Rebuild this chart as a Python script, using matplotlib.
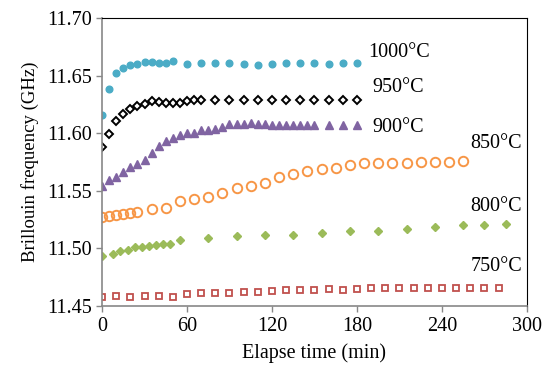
import numpy as np
import matplotlib
matplotlib.use("Agg")
import matplotlib.pyplot as plt

plt.rcParams['font.family'] = ['Liberation Serif', 'DejaVu Serif']

# 1000 C
t1000 = [0, 5, 10, 15, 20, 25, 30, 35, 40, 45, 50, 60, 70, 80, 90, 100, 110, 120,
         130, 140, 150, 160, 170, 180]
f1000 = [11.616, 11.638, 11.652, 11.657, 11.659, 11.660, 11.662, 11.662, 11.661, 11.661,
         11.663, 11.660, 11.661, 11.661, 11.661, 11.660, 11.659, 11.660, 11.661, 11.661,
         11.661, 11.660, 11.661, 11.661]

# 950 C
t950 = [0, 5, 10, 15, 20, 25, 30, 35, 40, 45, 50, 55, 60, 65, 70, 80, 90, 100, 110, 120,
        130, 140, 150, 160, 170, 180]
f950 = [11.588, 11.599, 11.611, 11.617, 11.621, 11.624, 11.625, 11.628, 11.627, 11.626,
        11.626, 11.626, 11.628, 11.629, 11.629, 11.629, 11.629, 11.629, 11.629, 11.629,
        11.629, 11.629, 11.629, 11.629, 11.629, 11.629]

# 900 C
t900 = [0, 5, 10, 15, 20, 25, 30, 35, 40, 45, 50, 55, 60, 65, 70, 75, 80, 85, 90, 95,
        100, 105, 110, 115, 120, 125, 130, 135, 140, 145, 150, 160, 170, 180]
f900 = [11.554, 11.559, 11.562, 11.566, 11.571, 11.573, 11.577, 11.583, 11.589, 11.593,
        11.596, 11.598, 11.600, 11.600, 11.603, 11.603, 11.604, 11.605, 11.608, 11.608,
        11.608, 11.609, 11.608, 11.608, 11.607, 11.607, 11.607, 11.607, 11.607, 11.607,
        11.607, 11.607, 11.607, 11.607]

# 850 C
t850 = [0, 5, 10, 15, 20, 25, 35, 45, 55, 65, 75, 85, 95, 105, 115, 125, 135, 145, 155,
        165, 175, 185, 195, 205, 215, 225, 235, 245, 255]
f850 = [11.527, 11.528, 11.529, 11.530, 11.531, 11.532, 11.534, 11.535, 11.541, 11.543,
        11.545, 11.548, 11.552, 11.554, 11.557, 11.562, 11.565, 11.567, 11.569, 11.570,
        11.572, 11.574, 11.574, 11.574, 11.574, 11.575, 11.575, 11.575, 11.576]

# 800 C
t800 = [0, 8, 13, 18, 23, 28, 33, 38, 43, 48, 55, 75, 95, 115, 135, 155, 175, 195, 215,
        235, 255, 270, 285]
f800 = [11.493, 11.495, 11.498, 11.499, 11.501, 11.501, 11.502, 11.503, 11.504, 11.504,
        11.507, 11.509, 11.511, 11.512, 11.512, 11.513, 11.515, 11.515, 11.517, 11.519,
        11.520, 11.520, 11.521]

# 750 C
t750 = list(range(0, 290, 10))
f750 = [11.458, 11.459, 11.458, 11.459, 11.459, 11.458, 11.460, 11.461, 11.461, 11.461,
        11.462, 11.462, 11.463, 11.464, 11.464, 11.464, 11.465, 11.464, 11.465, 11.466,
        11.466, 11.466, 11.466, 11.466, 11.466, 11.466, 11.466, 11.466, 11.466]

labels = ["1000°C", "950°C", "900°C", "850°C", "800°C", "750°C"]
label_x = [188, 191, 191, 260, 260, 260]
label_y = [11.670, 11.640, 11.605, 11.591, 11.536, 11.484]

fig = plt.figure(figsize=(5.5, 3.79), dpi=100)
ax = fig.add_axes([0.1855, 0.1926, 0.7725, 0.76])

ax.plot(t1000, f1000, 'o', ls='none', color='#4bacc6', ms=4.8, mec='#4bacc6')
ax.plot(t950, f950, 'D', ls='none', mfc='none', mec='black', ms=4.4, mew=1.4)
ax.plot(t900, f900, '^', ls='none', color='#8064a2', ms=5.3)
ax.plot(t850, f850, 'o', ls='none', mfc='none', mec='#f79646', ms=6.8, mew=1.4)
ax.plot(t800, f800, 'D', ls='none', color='#9bbb59', ms=4)
ax.plot(t750, f750, 's', ls='none', mfc='none', mec='#c0504d', ms=4.4, mew=1.3)

for lab, lx, ly in zip(labels, label_x, label_y):
    ax.text(lx, ly, lab, fontsize=14.5, ha='left', va='center')

ax.set_xlim(0, 300)
ax.set_ylim(11.45, 11.70)
ax.set_xticks([0, 60, 120, 180, 240, 300])
ax.set_yticks([11.45, 11.50, 11.55, 11.60, 11.65, 11.70])
ax.set_yticklabels(["11.45", "11.50", "11.55", "11.60", "11.65", "11.70"])
ax.tick_params(labelsize=14.5, direction='out', length=4, color='#888888', width=1)
ax.tick_params(axis='x', pad=4)

ax.spines['left'].set_color('#888888')
ax.spines['bottom'].set_color('#888888')
ax.spines['left'].set_linewidth(1.2)
ax.spines['bottom'].set_linewidth(1.2)
ax.spines['top'].set_color('black')
ax.spines['right'].set_color('black')

ax.set_xlabel("Elapse time (min)", fontsize=14.5, labelpad=5)
ax.set_ylabel("Brillouin frequency (GHz)", fontsize=13.5, labelpad=6)

fig.savefig("out.png", dpi=100)
